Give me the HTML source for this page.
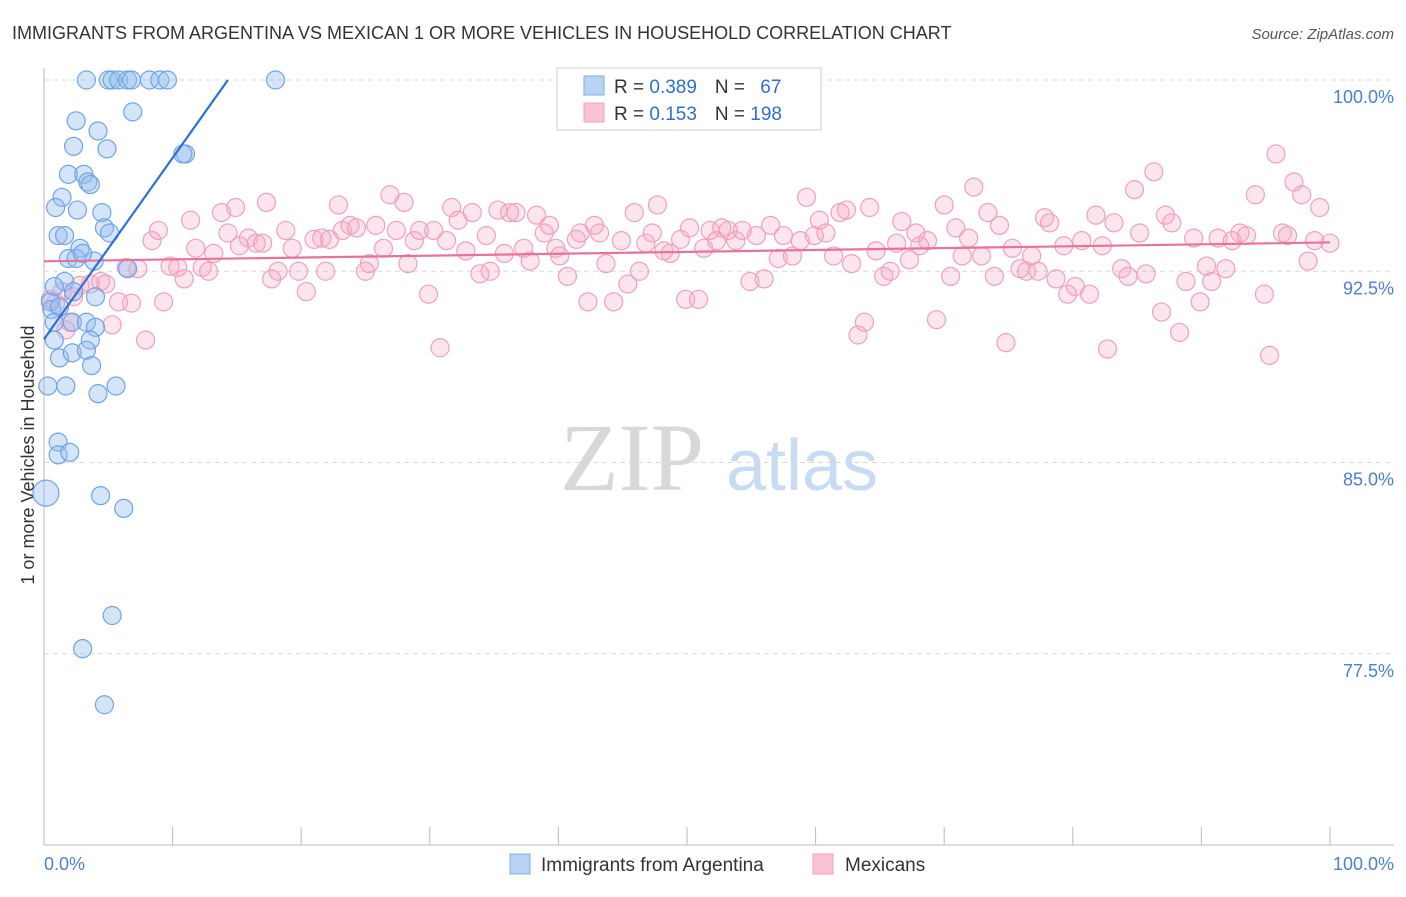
<!DOCTYPE html>
<html><head><meta charset="utf-8"><style>
body{margin:0;background:#fff;font-family:"Liberation Sans",sans-serif}
svg text{font-family:"Liberation Sans",sans-serif}
</style></head><body>
<svg id="c" width="1406" height="892" xmlns="http://www.w3.org/2000/svg">
<text x="12" y="39" font-size="18" fill="#333">IMMIGRANTS FROM ARGENTINA VS MEXICAN 1 OR MORE VEHICLES IN HOUSEHOLD CORRELATION CHART</text>
<text x="1394" y="39" font-size="15" fill="#555" font-style="italic" text-anchor="end">Source: ZipAtlas.com</text>
<text x="632" y="490" font-size="96" fill="#d8d8d8" text-anchor="middle" font-family="Liberation Serif" style="font-family:'Liberation Serif',serif">ZIP</text>
<text x="802" y="490" font-size="72" fill="#c9dbf3" text-anchor="middle">atlas</text>
<text transform="translate(34,455) rotate(-90)" font-size="18" fill="#333" text-anchor="middle">1 or more Vehicles in Household</text>
<g id="grid"></g><g id="pts"></g><g id="lines"></g>
<g>
<rect x="557" y="68" width="264" height="62" fill="#fff" stroke="#ccc"/>
<rect x="584" y="76" width="20" height="19" fill="#b8d2f4" stroke="#7aaee8"/>
<rect x="584" y="103" width="20" height="19" fill="#f8c4d4" stroke="#f0a0bc"/>
<text x="614" y="93" font-size="19" fill="#333">R = <tspan fill="#2f6fd0">0.389</tspan><tspan dx="18">N = </tspan><tspan fill="#2f6fd0" dx="10">67</tspan></text>
<text x="614" y="120" font-size="19" fill="#333">R = <tspan fill="#2f6fd0">0.153</tspan><tspan dx="18">N = </tspan><tspan fill="#2f6fd0">198</tspan></text>
</g>
<g>
<rect x="510" y="854" width="20" height="20" fill="#b8d2f4" stroke="#7aaee8"/>
<text x="541" y="871" font-size="19" fill="#333">Immigrants from Argentina</text>
<rect x="813" y="854" width="20" height="20" fill="#f8c4d4" stroke="#f0a0bc"/>
<text x="845" y="871" font-size="19" fill="#333">Mexicans</text>
</g>
<text x="44" y="870" font-size="18" fill="#4a7fd4">0.0%</text>
<text x="1394" y="870" font-size="18" fill="#4a7fd4" text-anchor="end">100.0%</text>
</svg>
<script>
const yTicks=[100,92.5,85,77.5];
const yTickLabels=["100.0%","92.5%","85.0%","77.5%"];
const xTicks=[0,10,20,30,40,50,60,70,80,90,100];
const blueX=[3.3,5.0,5.3,5.8,6.5,6.8,8.2,9.0,9.6,18.0,2.5,4.2,6.9,4.9,2.3,1.9,3.1,3.4,3.6,11.0,10.8,1.4,0.9,2.6,4.5,4.7,5.1,1.1,1.6,2.8,1.9,2.5,3.9,3.0,6.5,1.6,0.8,2.3,4.0,0.5,0.6,1.2,0.8,2.2,3.3,4.0,0.8,3.6,1.2,2.2,3.3,3.7,0.3,1.7,4.2,5.6,1.1,1.1,2.0,4.4,6.2,5.3,3.0,4.7,0.15];
const blueY=[100,100,100,100,100,100,100,100,100,100,98.4,98.0,98.75,97.3,97.4,96.3,96.3,96.0,95.9,97.1,97.1,95.4,95.0,94.9,94.8,94.2,94.0,93.9,93.9,93.4,93.0,93.0,92.9,93.2,92.6,92.1,91.9,91.7,91.5,91.3,91.0,91.1,90.5,90.5,90.5,90.3,89.8,89.8,89.1,89.3,89.4,88.8,88.0,88.0,87.7,88.0,85.8,85.3,85.4,83.7,83.2,79.0,77.7,75.5,83.8];
const pinkX=[0.5,0.9,1.4,1.7,2.0,2.3,2.8,3.6,4.4,4.8,5.3,5.8,6.4,6.8,7.3,7.9,8.4,8.9,9.3,9.8,10.4,10.9,11.4,11.8,12.3,12.8,13.2,13.8,14.3,14.9,15.2,15.9,16.5,17.0,17.3,17.7,18.2,18.8,19.3,19.8,20.4,21.0,21.6,21.9,22.2,22.9,23.2,23.8,24.3,25.0,25.3,25.8,26.4,26.9,27.4,28.0,28.3,28.8,29.2,29.9,30.3,30.8,31.3,31.7,32.2,32.8,33.3,33.9,34.4,34.7,35.3,35.8,36.2,36.7,37.3,37.8,38.3,38.9,39.3,39.8,40.1,40.7,41.4,41.7,42.3,42.8,43.2,43.7,44.3,44.9,45.4,45.9,46.3,46.8,47.3,47.7,48.2,48.7,49.5,49.9,50.2,50.9,51.3,51.8,52.3,52.7,53.2,53.8,54.3,54.9,55.4,56.0,56.5,57.1,57.5,58.2,58.8,59.3,59.9,60.3,60.8,61.4,61.9,62.4,62.8,63.3,63.8,64.2,64.7,65.3,65.8,66.3,66.7,67.3,67.8,68.1,68.7,69.4,70.0,70.5,70.9,71.4,71.9,72.3,72.9,73.4,73.9,74.3,74.8,75.3,75.9,76.4,76.8,77.3,77.8,78.2,78.7,79.3,79.6,80.2,80.7,81.3,81.8,82.3,82.7,83.2,83.8,84.3,84.8,85.2,85.7,86.3,86.9,87.2,87.7,88.3,88.8,89.4,89.9,90.4,90.8,91.3,91.9,92.4,93.0,93.5,94.2,94.9,95.3,95.8,96.3,96.7,97.2,97.8,98.3,98.8,99.2,100.0];
const pinkY=[91.4,91.25,91.7,90.2,90.5,91.5,91.95,92.0,92.1,92.0,90.4,91.3,92.65,91.25,92.6,89.8,93.7,94.1,91.3,92.7,92.65,92.2,94.5,93.4,92.65,92.5,93.2,94.8,94.0,95.0,93.5,93.8,93.6,93.6,95.2,92.2,92.5,94.1,93.4,92.5,91.7,93.75,93.8,92.5,93.75,95.1,94.1,94.3,94.2,92.5,92.8,94.3,93.4,95.5,94.1,95.2,92.8,93.7,94.1,91.6,94.1,89.5,93.7,95.0,94.5,93.3,94.8,92.4,93.9,92.5,94.9,93.2,94.8,94.8,93.4,92.9,94.7,94.0,94.3,93.4,93.1,92.3,93.75,94.0,91.3,94.3,94.0,92.8,91.3,93.7,92.0,94.8,92.5,93.6,94.0,95.1,93.3,93.2,93.75,91.4,94.2,91.4,93.4,94.1,93.7,94.2,94.1,93.7,94.1,92.1,93.9,92.2,94.3,93.0,93.9,93.1,93.7,95.4,93.9,94.5,94.0,93.1,94.8,94.9,92.8,90.0,90.5,95.0,93.3,92.3,92.5,93.6,94.45,92.95,94.0,93.5,93.7,90.6,95.1,92.3,94.2,93.1,93.8,95.8,93.1,94.8,92.3,94.3,89.7,93.4,92.6,92.5,93.1,92.5,94.6,94.4,92.2,93.5,91.6,91.9,93.7,91.6,94.7,93.5,89.45,94.4,92.6,92.3,95.7,94.0,92.4,96.4,90.9,94.7,94.4,90.1,92.1,93.8,91.3,92.7,92.1,93.8,92.6,93.7,94.0,93.9,95.5,91.6,89.2,97.1,94.0,93.9,96.0,95.5,92.9,93.7,95.0,93.6];
const trendPink=[92.89,93.63];
const trendBlue=[89.84,100];
const trendBlueXEnd=14.3;

const NS="http://www.w3.org/2000/svg";
const X0=44,X1=1330,YT=80,YB=845;
const sx=v=>X0+(X1-X0)*v/100;
const sy=v=>YT+(100-v)*25.5;
function mk(t,a,p){const e=document.createElementNS(NS,t);for(const k in a)e.setAttribute(k,a[k]);p.appendChild(e);return e;}
const grid=document.getElementById('grid');
const ax=mk('line',{x1:X0,y1:68,x2:X0,y2:YB,stroke:'#bbb'},grid);


const bx=mk('line',{x1:X0,y1:YB,x2:1394,y2:YB,stroke:'#bbb'},grid);


yTicks.forEach((v,i)=>{
 const g=mk('line',{x1:X0,y1:sy(v),x2:1394,y2:sy(v),stroke:'#d8d8d8','stroke-dasharray':'5,4'},grid);
 
 
 const t=mk('text',{x:1394,y:sy(v)+23,'font-size':18,fill:'#4a7fd4','text-anchor':'end'},grid);
 t.textContent=yTickLabels[i];
 
 
});
xTicks.forEach(v=>{
 const t=mk('line',{x1:sx(v),y1:YB,x2:sx(v),y2:YB-18,stroke:'#bbb'},grid);
 
 
});
const pts=document.getElementById('pts');
pinkX.forEach((x,i)=>{
 const c=mk('circle',{cx:sx(x),cy:sy(pinkY[i]),r:9,fill:'rgba(244,170,196,0.3)',stroke:'#f0a0bc','stroke-width':1.2},pts);
 
 
});
blueX.forEach((x,i)=>{
 const c=mk('circle',{cx:sx(x),cy:sy(blueY[i]),r:i===blueX.length-1?13:9,fill:'rgba(150,190,240,0.4)',stroke:'#6ea4e6','stroke-width':1.2},pts);
 
 
});
const lines=document.getElementById('lines');
const lp=mk('line',{x1:sx(0),y1:sy(trendPink[0]),x2:sx(100),y2:sy(trendPink[1]),stroke:'#e8729a','stroke-width':2.2},lines);


const lb=mk('line',{x1:sx(0),y1:sy(trendBlue[0]),x2:sx(trendBlueXEnd),y2:sy(trendBlue[1]),stroke:'#2c6fd6','stroke-width':2.2},lines);


</script>
</body></html>
